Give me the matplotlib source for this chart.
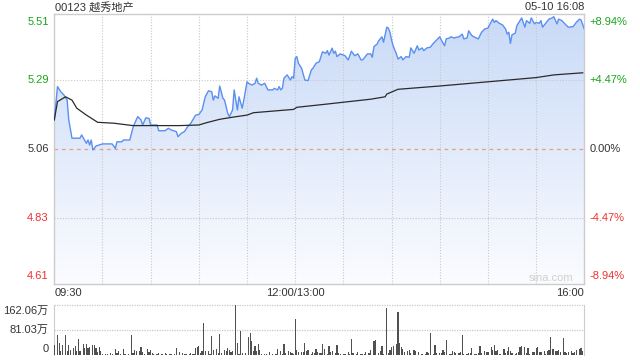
import matplotlib
matplotlib.use("Agg")
import matplotlib.pyplot as plt
import numpy as np
from matplotlib.colors import LinearSegmentedColormap

plt.rcParams['font.family'] = ['Liberation Sans', 'Noto Sans CJK SC', 'DejaVu Sans']

# ---------------- data ----------------
title = "00123 越秀地产"
stamp = "05-10 16:08"
prev_close = 5.06
price_ticks = [5.51, 5.29, 5.06, 4.83, 4.61]
pct_ticks = ["+8.94%", "+4.47%", "0.00%", "-4.47%", "-8.94%"]
time_labels = ["09:30", "12:00/13:00", "16:00"]
time_label_pos = [0, 150, 330]
vol_tick_labels = ["162.06万", "81.03万", "0"]
vol_tick_vals = [162.06, 81.03, 0]

price_min = [0, 2, 4, 6, 8, 9, 11, 16, 17, 20, 21, 22, 23, 24, 26, 30, 36, 38, 39, 42, 43, 47,
             49, 51, 52, 54, 55, 57, 59, 60, 64, 65, 69, 71, 73, 76, 77, 79, 81, 83, 85, 88, 90,
             92, 94, 96, 98, 99, 100, 102, 103, 105, 106, 108, 109, 111, 112, 114, 115, 117, 118,
             120, 121, 123, 125, 126, 127, 129, 131, 133, 136, 137, 139, 140, 141, 142, 143, 145,
             147, 148, 149, 150, 151, 152, 154, 156, 158, 160, 161, 163, 165, 167, 169, 170, 171,
             173, 174, 175, 176, 178, 181, 183, 185, 187, 189, 191, 192, 195, 197, 198, 199, 201,
             202, 204, 205, 207, 208, 209, 210, 211, 213, 214, 216, 217, 219, 221, 222, 224, 226,
             227, 229, 230, 232, 234, 236, 238, 240, 241, 243, 244, 246, 247, 249, 250, 252, 254,
             255, 257, 258, 260, 262, 264, 266, 268, 270, 271, 273, 274, 275, 277, 279, 281, 282,
             283, 284, 285, 287, 288, 290, 291, 293, 294, 296, 297, 299, 300, 302, 303, 304, 307,
             308, 310, 311, 313, 314, 316, 318, 320, 323, 325, 327, 328, 330]
price = [5.157, 5.268, 5.251, 5.24, 5.223, 5.157, 5.096, 5.096, 5.107, 5.079, 5.09, 5.073, 5.09,
         5.057, 5.07, 5.077, 5.077, 5.062, 5.084, 5.084, 5.09, 5.09, 5.132, 5.157, 5.168, 5.157,
         5.14, 5.164, 5.162, 5.14, 5.14, 5.121, 5.121, 5.129, 5.123, 5.118, 5.101, 5.112, 5.118,
         5.134, 5.146, 5.173, 5.175, 5.19, 5.234, 5.254, 5.251, 5.223, 5.237, 5.229, 5.27, 5.229,
         5.223, 5.179, 5.168, 5.19, 5.257, 5.19, 5.234, 5.196, 5.223, 5.284, 5.279, 5.273, 5.279,
         5.296, 5.279, 5.273, 5.279, 5.257, 5.257, 5.262, 5.257, 5.268, 5.257, 5.262, 5.296,
         5.307, 5.29, 5.301, 5.296, 5.362, 5.368, 5.346, 5.329, 5.29, 5.288, 5.323, 5.329, 5.346,
         5.351, 5.384, 5.379, 5.388, 5.373, 5.396, 5.379, 5.386, 5.368, 5.377, 5.371, 5.357,
         5.386, 5.371, 5.377, 5.357, 5.357, 5.377, 5.377, 5.366, 5.401, 5.41, 5.421, 5.434,
         5.416, 5.466, 5.463, 5.449, 5.423, 5.404, 5.377, 5.36, 5.368, 5.357, 5.368, 5.366,
         5.397, 5.379, 5.404, 5.39, 5.397, 5.388, 5.397, 5.399, 5.412, 5.423, 5.434, 5.423,
         5.404, 5.427, 5.43, 5.434, 5.43, 5.432, 5.434, 5.443, 5.427, 5.43, 5.454, 5.438, 5.432,
         5.427, 5.449, 5.46, 5.463, 5.474, 5.493, 5.482, 5.488, 5.479, 5.474, 5.46, 5.443, 5.449,
         5.412, 5.441, 5.446, 5.471, 5.488, 5.497, 5.466, 5.488, 5.479, 5.497, 5.477, 5.482,
         5.479, 5.488, 5.466, 5.486, 5.493, 5.497, 5.501, 5.477, 5.493, 5.488, 5.477, 5.466,
         5.468, 5.482, 5.493, 5.49, 5.46]

avg_min = [0, 2, 7, 11, 14, 20, 27, 37, 49, 78, 90, 95, 103, 111, 120, 124, 149, 151, 165, 197,
           206, 207, 214, 240, 270, 300, 311, 329]
avg_price = [5.157, 5.218, 5.234, 5.223, 5.196, 5.173, 5.149, 5.146, 5.138, 5.138, 5.14, 5.148,
             5.159, 5.166, 5.173, 5.181, 5.192, 5.199, 5.207, 5.226, 5.234, 5.243, 5.259, 5.27,
             5.284, 5.298, 5.307, 5.314]

vol_min = [0, 2, 3, 4, 5, 7, 8, 9, 10, 12, 13, 14, 15, 16, 18, 19, 20, 21, 22, 24, 25, 26, 27,
           28, 29, 30, 32, 33, 35, 36, 38, 39, 40, 41, 43, 44, 46, 48, 49, 50, 51, 53, 54, 55, 56,
           58, 59, 60, 61, 62, 64, 65, 67, 69, 70, 72, 73, 75, 76, 78, 80, 81, 82, 84, 85, 86, 87,
           88, 89, 90, 91, 92, 93, 94, 96, 97, 98, 99, 101, 102, 103, 104, 106, 107, 108, 109,
           110, 111, 113, 114, 115, 116, 117, 119, 121, 122, 123, 124, 125, 126, 127, 128, 129,
           131, 132, 134, 136, 138, 139, 141, 142, 143, 144, 146, 147, 148, 149, 150, 151, 152,
           154, 155, 156, 157, 158, 160, 161, 162, 163, 164, 165, 166, 167, 168, 170, 171, 172,
           173, 175, 176, 177, 178, 180, 181, 183, 184, 185, 186, 188, 189, 191, 192, 193, 194,
           196, 197, 199, 200, 202, 203, 204, 205, 207, 208, 209, 210, 211, 213, 214, 215, 216,
           217, 218, 220, 221, 222, 224, 225, 227, 229, 231, 232, 233, 234, 236, 237, 238, 240,
           241, 242, 243, 244, 246, 247, 248, 249, 250, 252, 253, 254, 255, 257, 258, 259, 260,
           262, 263, 264, 265, 266, 268, 269, 270, 272, 273, 274, 275, 276, 277, 278, 280, 281,
           282, 283, 284, 285, 287, 288, 289, 290, 291, 293, 294, 295, 296, 298, 299, 300, 301,
           302, 303, 305, 306, 307, 308, 309, 310, 311, 312, 313, 314, 315, 317, 318, 319, 320,
           322, 323, 324, 325, 327, 328, 329, 330]
vol = [33, 66, 39, 12, 33, 66, 14, 33, 17, 23, 28, 12, 53, 12, 37, 23, 37, 23, 26, 33, 33, 23, 10,
       26, 12, 3, 2, 3, 6, 3, 21, 6, 14, 3, 21, 3, 3, 66, 6, 17, 14, 12, 25, 10, 3, 21, 10, 17, 6,
       3, 3, 6, 3, 6, 3, 3, 3, 3, 23, 9, 5, 3, 4, 3, 6, 3, 3, 23, 26, 28, 6, 12, 104, 12, 12, 3,
       63, 17, 19, 6, 68, 6, 17, 12, 23, 17, 9, 14, 162.06, 39, 3, 79, 6, 6, 58, 71, 46, 12, 28,
       12, 36, 17, 3, 3, 3, 10, 3, 3, 21, 14, 3, 36, 6, 14, 10, 6, 3, 118, 17, 10, 10, 10, 39, 12,
       17, 3, 10, 6, 21, 10, 6, 6, 36, 21, 3, 28, 10, 14, 6, 33, 6, 3, 3, 3, 10, 3, 52, 6, 3, 10,
       3, 3, 3, 10, 6, 17, 44, 48, 6, 12, 28, 3, 152, 6, 17, 26, 28, 36, 139, 39, 26, 21, 10, 14,
       17, 6, 15, 14, 10, 3, 3, 10, 6, 71, 3, 33, 6, 6, 6, 17, 10, 50, 3, 3, 14, 10, 6, 6, 10, 66,
       3, 3, 6, 6, 23, 3, 3, 6, 28, 6, 14, 10, 10, 26, 17, 33, 12, 17, 3, 3, 21, 6, 14, 25, 14, 6,
       3, 6, 10, 26, 28, 26, 6, 23, 3, 10, 10, 23, 26, 10, 10, 12, 3, 12, 17, 57, 21, 21, 14, 12,
       17, 10, 55, 10, 6, 10, 12, 6, 10, 17, 21, 23, 14, 90]

# ---------------- styling ----------------
GREEN = "#1aa31a"
RED = "#f03030"
DARK = "#333333"
GRID = "#c8c8c8"
SPINE = "#cccccc"
LINE = "#5b8ff0"

fig = plt.figure(figsize=(6.4, 3.6), dpi=100)
W, H = 640.0, 360.0
x0, x1 = 54.3, 584.3
ax = fig.add_axes([x0 / W, 1 - 284 / H, (x1 - x0) / W, 270 / H])
axv = fig.add_axes([x0 / W, 1 - 355 / H, (x1 - x0) / W, 50 / H])

ymin, ymax = price_ticks[-1], price_ticks[0]
ax.set_xlim(0, 330)
ax.set_ylim(ymin, ymax)

# gradient fill under price
poly = ax.fill_between(price_min, price, ymin, color="none", lw=0)
cmap = LinearSegmentedColormap.from_list("g", ["#fbfcff", "#c9daf7"])
grad = np.linspace(0, 1, 256).reshape(-1, 1)
im = ax.imshow(grad, extent=[0, 330, ymin, ymax], origin="lower", aspect="auto", cmap=cmap,
               zorder=1)
im.set_clip_path(poly.get_paths()[0], transform=ax.transData)

# grid
for t in range(30, 330, 30):
    ax.axvline(t, color=GRID, lw=0.8, ls=(0, (1, 1.5)), zorder=2)
for v in [price_ticks[1], price_ticks[3]]:
    ax.axhline(v, color=GRID, lw=0.8, ls=(0, (1, 1.5)), zorder=2)
ax.axhline(prev_close, color="#e8a080", lw=0.9, ls=(0, (3, 3)), zorder=2)

ax.plot(price_min, price, color=LINE, lw=1.0, zorder=4)
ax.plot(avg_min, avg_price, color="#2a2a2a", lw=0.9, zorder=5)

ax.set_xticks([])
ax.set_yticks([])
for s in ax.spines.values():
    s.set_color(SPINE)
    s.set_linewidth(1.0)

# y labels
lab_colors = [GREEN, GREEN, DARK, RED, RED]
vas = ["top", "center", "center", "center", "bottom"]
for v, c, va, pl in zip(price_ticks, lab_colors, vas, pct_ticks):
    off = -2 if va == "top" else (2 if va == "bottom" else 0)
    ax.annotate(f"{v:.2f}", xy=(0, v), xytext=(-4, off), textcoords="offset points",
                ha="right", va=va, color=c, fontsize=8)
    ax.annotate(pl, xy=(330, v), xytext=(4, off), textcoords="offset points",
                ha="left", va=va, color=c, fontsize=8)

# x labels
has = ["left", "center", "right"]
for lab, pos, ha in zip(time_labels, time_label_pos, has):
    ax.annotate(lab, xy=(pos, ymin), xytext=(0, -3), textcoords="offset points",
                ha=ha, va="top", color=DARK, fontsize=8)

fig.text(55 / W, 1 - 7 / H, title, ha="left", va="center", color=DARK, fontsize=8)
fig.text(584 / W, 1 - 7 / H, stamp, ha="right", va="center", color=DARK, fontsize=8)
ax.text(0.979, 0.004, "sina.com", transform=ax.transAxes, ha="right", va="bottom",
        color="#d0d0d0", fontsize=8)

# volume
axv.set_xlim(0, 330)
axv.set_ylim(0, vol_tick_vals[0])
axv.bar(vol_min, vol, width=0.75, color="#505050", zorder=3)
for v in vol_tick_vals[:2]:
    axv.axhline(v, color=GRID, lw=0.9, ls=(0, (1, 1)), zorder=1, clip_on=False)
axv.set_xticks([])
axv.set_yticks([])
for k, s in axv.spines.items():
    if k in ("left", "right"):
        s.set_color(SPINE)
    else:
        s.set_visible(False)
vvas = ["top", "center", "bottom"]
for lab, v, va in zip(vol_tick_labels, vol_tick_vals, vvas):
    off = -1 if va == "top" else (1 if va == "bottom" else 0)
    axv.annotate(lab, xy=(0, v), xytext=(-4, off), textcoords="offset points",
                 ha="right", va=va, color=DARK, fontsize=8)

fig.savefig("out.png", dpi=100)
